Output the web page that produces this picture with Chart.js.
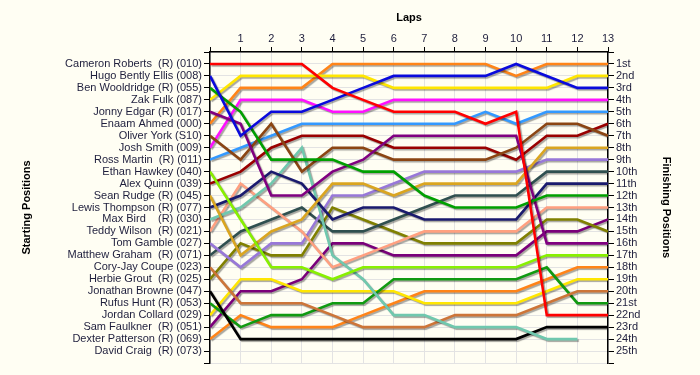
<!DOCTYPE html>
<html lang="en">
<head>
<meta charset="UTF-8">
<title>Lap Chart</title>
<style>
    body {
        margin: 0;
        background: #FFFEF3;
    }
    #chart-container {
        width: 700px;
        height: 375px;
    }
</style>
</head>
<body>
<div id="chart-container">
    <canvas id="lapChart" width="700" height="375"></canvas>
</div>

<script src="https://cdn.jsdelivr.net/npm/chart.js"></script>
<script>
    // starting grid (left axis labels)
    const drivers = [
        'Cameron Roberts  (R) (010)', 'Hugo Bently Ellis (008)', 'Ben Wooldridge (R) (055)',
        'Zak Fulk (087)', 'Jonny Edgar (R) (017)', 'Enaam Ahmed (000)', 'Oliver York (S10)',
        'Josh Smith (009)', 'Ross Martin  (R) (011)', 'Ethan Hawkey (040)', 'Alex Quinn (039)',
        'Sean Rudge (R) (045)', 'Lewis Thompson (R) (077)', 'Max Bird    (R) (030)',
        'Teddy Wilson  (R) (021)', 'Tom Gamble (027)', 'Matthew Graham  (R) (071)',
        'Cory-Jay Coupe (023)', 'Herbie Grout  (R) (025)', 'Jonathan Browne (047)',
        'Rufus Hunt (R) (053)', 'Jordan Collard (029)', 'Sam Faulkner  (R) (051)',
        'Dexter Patterson (R) (069)', 'David Craig  (R) (073)'
    ];
    const finishLabels = [
        '1st', '2nd', '3rd', '4th', '5th', '6th', '7th', '8th', '9th', '10th', '11th', '12th', '13th',
        '14th', '15th', '16th', '17th', '18th', '19th', '20th', '21st', '22nd', '23rd', '24th', '25th'
    ];
    const laps = [0, 1, 2, 3, 4, 5, 6, 7, 8, 9, 10, 11, 12, 13];

    // position at each lap (lap 0 = grid)
    const cameronRoberts  = [1, 1, 1, 1, 3, 4, 5, 5, 5, 6, 5, 22, 22, 22];
    const hugoEllis       = [2, 7, 5, 5, 4, 3, 2, 2, 2, 2, 1, 2, 3, 3];
    const benWooldridge   = [3, 5, 9, 9, 9, 10, 10, 12, 13, 13, 13, 12, 12, 12];
    const zakFulk         = [4, 2, 2, 2, 2, 2, 3, 3, 3, 3, 3, 3, 2, 2];
    const jonnyEdgar      = [5, 6, 12, 12, 10, 9, 7, 7, 7, 7, 7, 16, 16, 16];
    const enaamAhmed      = [6, 3, 3, 3, 1, 1, 1, 1, 1, 1, 2, 1, 1, 1];
    const oliverYork      = [7, 9, 6, 10, 8, 8, 9, 9, 9, 9, 8, 6, 6, 7];
    const joshSmith       = [8, 4, 4, 4, 5, 5, 4, 4, 4, 4, 4, 4, 4, 4];
    const rossMartin      = [9, 8, 7, 6, 6, 6, 6, 6, 6, 5, 6, 5, 5, 5];
    const ethanHawkey     = [10, 14, 18, 18, 19, 18, 18, 18, 18, 18, 18, 17, 17, 17];
    const alexQuinn       = [11, 10, 8, 7, 7, 7, 8, 8, 8, 8, 9, 7, 7, 6];
    const seanRudge       = [12, 17, 15, 14, 11, 11, 12, 11, 11, 11, 11, 8, 8, 8];
    const lewisThompson   = [13, 12, 10, 11, 14, 13, 13, 14, 14, 14, 14, 11, 11, 11];
    const maxBird         = [14, 13, 11, 8, 17, 19, 22, 22, 23, 23, 23, 24, 24, null];
    const teddyWilson     = [15, 11, 13, 15, 18, 17, 16, 15, 15, 15, 15, 13, 13, 13];
    const tomGamble       = [16, 18, 16, 16, 12, 12, 11, 10, 10, 10, 10, 9, 9, 9];
    const matthewGraham   = [17, 15, 14, 13, 15, 15, 14, 13, 12, 12, 12, 10, 10, 10];
    const coryJayCoupe    = [18, 21, 21, 21, 22, 23, 23, 23, 22, 22, 22, 21, 20, 20];
    const herbieGrout     = [19, 16, 17, 17, 13, 14, 15, 16, 16, 16, 16, 14, 14, 15];
    const jonathanBrowne  = [20, 24, 24, 24, 24, 24, 24, 24, 24, 24, 24, 23, 23, 23];
    const rufusHunt       = [21, 23, 22, 22, 21, 21, 19, 19, 19, 19, 19, 18, 21, 21];
    const jordanCollard   = [22, 19, 19, 20, 20, 20, 20, 21, 21, 21, 21, 20, 19, 19];
    const samFaulkner     = [23, 20, 20, 19, 16, 16, 17, 17, 17, 17, 17, 15, 15, 14];
    const dexterPatterson = [24, 22, 23, 23, 23, 22, 21, 20, 20, 20, 20, 19, 18, 18];

    const series = [
        cameronRoberts, hugoEllis, benWooldridge, zakFulk, jonnyEdgar, enaamAhmed, oliverYork,
        joshSmith, rossMartin, ethanHawkey, alexQuinn, seanRudge, lewisThompson, maxBird,
        teddyWilson, tomGamble, matthewGraham, coryJayCoupe, herbieGrout, jonathanBrowne,
        rufusHunt, jordanCollard, samFaulkner, dexterPatterson
    ];
    const lineColors = [
        '#FF0000', '#0A0ADC', '#00A000', '#FFE600', '#800080', '#FF8418', '#8B4513',
        '#FF10FF', '#3399FF', '#88F000', '#990000', '#DAA520', '#1A1A6E', '#70C8AE',
        '#FFA080', '#9878D8', '#2F4F4F', '#CD7538', '#808000', '#000000',
        '#109A10', '#FFE600', '#7A007A', '#FF8418'
    ];

    const textColor = '#1E1E3C';
    const gridColor = '#E3E3E3';
    const font = { family: 'Liberation Sans', size: 11 };
    const titleFont = { family: 'Liberation Sans', size: 11, weight: 'bold' };

    const datasets = series.map((pos, i) => ({
        label: drivers[i],
        data: laps.map((lap, k) => ({ x: lap, y: pos[k] })).filter(p => p.y !== null),
        borderColor: lineColors[i],
        borderWidth: 2.6,
        pointRadius: 0,
        tension: 0,
        fill: false
    }));

    // 線の影
    const lineShadow = {
        id: 'lineShadow',
        beforeDatasetsDraw(chart) {
            const c = chart.ctx;
            c.save();
            c.shadowColor = 'rgba(0,0,0,0.35)';
            c.shadowOffsetX = 1.5;
            c.shadowOffsetY = 1.5;
            c.shadowBlur = 1;
        },
        afterDatasetsDraw(chart) {
            chart.ctx.restore();
        }
    };

    new Chart(document.getElementById('lapChart'), {
        type: 'line',
        data: { datasets: datasets },
        plugins: [lineShadow],
        options: {
            responsive: false,
            animation: false,
            layout: { padding: { top: 0, left: 0, right: 0, bottom: 12 } },
            plugins: {
                legend: { display: false },
                tooltip: { enabled: false }
            },
            scales: {
                x: {
                    type: 'linear',
                    position: 'top',
                    min: 0,
                    max: 13,
                    afterFit(scale) { scale.height = 52; },
                    ticks: {
                        stepSize: 1,
                        autoSkip: false,
                        maxRotation: 0,
                        padding: 1,
                        color: textColor,
                        font: font,
                        callback: v => (v === 0 ? '' : v)
                    },
                    grid: { color: gridColor, tickColor: '#000', tickLength: 5 },
                    border: { color: '#000', width: 1.5 },
                    title: { display: true, text: 'Laps', color: '#000', font: titleFont, padding: { top: 11, bottom: 4 } }
                },
                y: {
                    type: 'linear',
                    position: 'left',
                    reverse: true,
                    min: 0,
                    max: 26,
                    afterFit(scale) { scale.width = 210; },
                    ticks: {
                        stepSize: 1,
                        autoSkip: false,
                        padding: 2,
                        color: textColor,
                        font: font,
                        callback: v => drivers[v - 1] || ''
                    },
                    grid: { color: gridColor, tickColor: '#000', tickLength: 6 },
                    border: { color: '#000', width: 1.5 },
                    title: { display: true, text: 'Starting Positions', color: '#000', font: titleFont, padding: { top: 20, bottom: 4 } }
                },
                y2: {
                    type: 'linear',
                    position: 'right',
                    reverse: true,
                    min: 0,
                    max: 26,
                    afterFit(scale) { scale.width = 92; },
                    ticks: {
                        stepSize: 1,
                        autoSkip: false,
                        padding: 2,
                        color: textColor,
                        font: font,
                        callback: v => finishLabels[v - 1] || ''
                    },
                    grid: { drawOnChartArea: false, tickColor: '#000', tickLength: 6 },
                    border: { color: '#000', width: 1.5 },
                    title: { display: true, text: 'Finishing Positions', color: '#000', font: titleFont, padding: { top: 27, bottom: 4 } }
                }
            }
        }
    });
</script>
</body>
</html>
